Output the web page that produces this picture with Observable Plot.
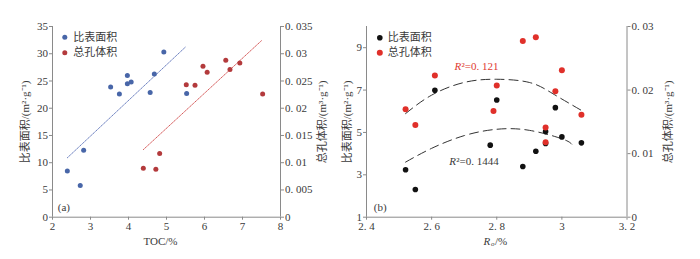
<!DOCTYPE html>
<html><head><meta charset="utf-8">
<script src="https://cdn.jsdelivr.net/npm/d3@7"></script>
<script src="https://cdn.jsdelivr.net/npm/@observablehq/plot@0.6"></script>
<style>
body{margin:0;background:#fff;}
#wrap{position:relative;width:700px;height:259px;overflow:hidden;}
#a{position:absolute;left:0;top:0;}
#b{position:absolute;left:330px;top:0;}
</style></head><body><div id="wrap"><div id="a"></div><div id="b"></div></div>
<script>
// ---------- Panel (a): TOC vs specific surface area / total pore volume ----------
const aTocSA = [2.39, 2.73, 2.82, 3.53, 3.76, 3.97, 3.97, 4.07, 4.57, 4.68, 4.93, 5.53];
const aSA    = [8.5, 5.8, 12.3, 23.9, 22.6, 26.0, 24.5, 24.8, 22.9, 26.3, 30.3, 22.7];
const aTocPV = [4.39, 4.72, 4.82, 5.52, 5.75, 5.96, 6.07, 6.56, 6.67, 6.93, 7.53];
const aPV    = [0.0090, 0.0088, 0.0117, 0.0243, 0.0242, 0.0277, 0.0266, 0.0288, 0.0271, 0.0283, 0.0226];
const aFitSAx = [2.39, 5.51], aFitSAy = [10.9, 31.3];
const aFitPVx = [4.39, 7.50], aFitPVy = [0.0124, 0.0324];
const aXTicks = [2, 3, 4, 5, 6, 7, 8];
const aLeftTicks = [0, 5, 10, 15, 20, 25, 30, 35];
const aRightTicks = [0, 0.005, 0.01, 0.015, 0.02, 0.025, 0.03, 0.035];

// ---------- Panel (b): Ro vs specific surface area / total pore volume ----------
const bRoSA = [2.52, 2.55, 2.61, 2.78, 2.80, 2.88, 2.92, 2.95, 2.95, 2.98, 3.00, 3.06];
const bSA   = [3.24, 2.31, 6.99, 4.40, 6.53, 3.39, 4.11, 5.04, 4.48, 6.17, 4.79, 4.51];
const bRoPV = [2.52, 2.55, 2.61, 2.79, 2.80, 2.88, 2.92, 2.95, 2.95, 2.98, 3.00, 3.06];
const bPV   = [0.0170, 0.0145, 0.0223, 0.0167, 0.0207, 0.0277, 0.0283, 0.0141, 0.0118, 0.0198, 0.0231, 0.0161];
const bFitSAx = [2.52, 2.6, 2.7, 2.8, 2.9, 3.0, 3.03];
const bFitSAy = [3.6, 4.25, 4.85, 5.15, 5.1, 4.7, 4.45];
const bFitPVx = [2.52, 2.6, 2.7, 2.8, 2.9, 2.97, 3.06];
const bFitPVy = [0.0163, 0.0192, 0.0212, 0.0217, 0.0212, 0.0195, 0.0168];
const bXTicks = [2.4, 2.6, 2.8, 3.0, 3.2];
const bLeftTicks = [1, 3, 5, 7, 9];
const bRightTicks = [0, 0.01, 0.02, 0.03];
const bR2 = [{x: 2.670, y: 8.11, t: "0. 121", c: "red"}, {x: 2.654, y: 3.61, t: "0. 1444", c: "black"}];

const legendLabels = ["比表面积", "总孔体积"];
const labelSA = "比表面积/(m²·g⁻¹)";
const labelPV = "总孔体积/(m³·g⁻¹)";

// ---------- styling ----------
const FONT = '"Liberation Serif","Noto Sans CJK SC",serif';
const AX = "#8a8a8a", TX = "#3a3a3a";
const BLUE = "#4866a8", RED_A = "#b33a3c", RED_B = "#e0302a", BLACK = "#111";
const fmt = v => String(+(+v).toFixed(4)).replace(".", ". ");
const zip = (xs, ys) => xs.map((x, i) => ({x, y: ys[i]}));
const T = {text: d => d, lineAnchor: "middle", fontSize: 11, fill: TX};

// panel a: right axis value v maps to left units v*1000
const aToL = v => v * 1000;
const A = Plot.plot({
  width: 330, height: 259,
  marginLeft: 52, marginRight: 50, marginTop: 26, marginBottom: 42.3,
  x: {domain: [2, 8]},
  y: {domain: [0, 35]},
  style: {fontFamily: FONT, fontSize: "11px", color: TX, background: "#fff"},
  marks: [
    Plot.ruleX([2, 8], {stroke: AX}),
    Plot.ruleY([0], {stroke: AX}),
    Plot.axisX({ticks: aXTicks, tickSize: 3, tickPadding: 2, label: null, tickFormat: fmt, stroke: AX, fill: TX}),
    Plot.axisY({anchor: "left", ticks: aLeftTicks, tickSize: 3, tickPadding: 1.5, label: null, tickFormat: fmt, stroke: AX, fill: TX}),
    Plot.axisY({anchor: "right", ticks: aRightTicks.map(aToL), tickSize: 3, tickPadding: 1.5, label: null, tickFormat: d => fmt(d / 1000), stroke: AX, fill: TX}),
    Plot.line(zip(aFitSAx, aFitSAy), {x: "x", y: "y", stroke: "#5a70b8", strokeWidth: 0.9, strokeDasharray: "1,1.2"}),
    Plot.line(zip(aFitPVx, aFitPVy.map(aToL)), {x: "x", y: "y", stroke: "#d04a4a", strokeWidth: 0.9, strokeDasharray: "1,1.2"}),
    Plot.dot(zip(aTocSA, aSA), {x: "x", y: "y", r: 2.5, fill: BLUE}),
    Plot.dot(zip(aTocPV, aPV.map(aToL)), {x: "x", y: "y", r: 2.5, fill: RED_A}),
    // legend
    Plot.dot([0], {frameAnchor: "top-left", dx: 12.3, dy: 10.7, r: 2.5, fill: BLUE}),
    Plot.dot([0], {frameAnchor: "top-left", dx: 12.3, dy: 26.3, r: 2.5, fill: RED_A}),
    Plot.text([legendLabels[0]], {...T, frameAnchor: "top-left", dx: 20.7, dy: 10.7, textAnchor: "start"}),
    Plot.text([legendLabels[1]], {...T, frameAnchor: "top-left", dx: 20.7, dy: 26.3, textAnchor: "start"}),
    Plot.text(["(a)"], {...T, frameAnchor: "bottom-left", dx: 5.3, dy: -9.4, textAnchor: "start"}),
    // axis titles
    Plot.text([labelSA], {...T, frameAnchor: "left", dx: -27, rotate: -90, textAnchor: "middle"}),
    Plot.text([labelPV], {...T, frameAnchor: "right", dx: 41.7, rotate: -90, textAnchor: "middle"}),
    Plot.text(["TOC/%"], {...T, frameAnchor: "bottom", dx: -6, dy: 24, textAnchor: "middle"})
  ]
});
document.getElementById("a").append(A);

// panel b: right axis value v maps to left units 1 + v*300
const bToL = v => 1 + v * 300;
const B = Plot.plot({
  width: 370, height: 259,
  marginLeft: 36, marginRight: 73.5, marginTop: 26, marginBottom: 42.3,
  x: {domain: [2.4, 3.2]},
  y: {domain: [1, 10]},
  style: {fontFamily: FONT, fontSize: "11px", color: TX, background: "#fff"},
  marks: [
    Plot.ruleX([2.4, 3.2], {stroke: AX}),
    Plot.ruleY([1], {stroke: AX}),
    Plot.axisX({ticks: bXTicks, tickSize: 3, tickPadding: 2, label: null, tickFormat: fmt, stroke: AX, fill: TX}),
    Plot.axisY({anchor: "left", ticks: bLeftTicks, tickSize: 3, tickPadding: 1.5, label: null, tickFormat: fmt, stroke: AX, fill: TX}),
    Plot.axisY({anchor: "right", ticks: bRightTicks.map(bToL), tickSize: 3, tickPadding: 1.5, label: null, tickFormat: d => fmt((d - 1) / 300), stroke: AX, fill: TX}),
    Plot.line(zip(bFitPVx, bFitPVy.map(bToL)), {x: "x", y: "y", curve: "natural", stroke: "#333", strokeWidth: 1, strokeDasharray: "9,5"}),
    Plot.line(zip(bFitSAx, bFitSAy), {x: "x", y: "y", curve: "natural", stroke: "#333", strokeWidth: 1, strokeDasharray: "9,5"}),
    Plot.dot(zip(bRoSA, bSA), {x: "x", y: "y", r: 2.8, fill: BLACK}),
    Plot.dot(zip(bRoPV, bPV.map(bToL)), {x: "x", y: "y", r: 3, fill: RED_B}),
    // R² annotations
    Plot.text(bR2, {x: "x", y: "y", text: () => "R", textAnchor: "start", lineAnchor: "middle", fontStyle: "italic", fontSize: 11, fill: d => d.c === "red" ? "#e03a30" : TX}),
    Plot.text(bR2, {x: "x", y: "y", dx: 7, text: d => "²=" + d.t, textAnchor: "start", lineAnchor: "middle", fontSize: 11, fill: d => d.c === "red" ? "#e03a30" : TX}),
    // legend
    Plot.dot([0], {frameAnchor: "top-left", dx: 13.3, dy: 11.3, r: 2.8, fill: BLACK}),
    Plot.dot([0], {frameAnchor: "top-left", dx: 13.3, dy: 26.3, r: 3, fill: RED_B}),
    Plot.text([legendLabels[0]], {...T, frameAnchor: "top-left", dx: 21.3, dy: 11.3, textAnchor: "start"}),
    Plot.text([legendLabels[1]], {...T, frameAnchor: "top-left", dx: 21.3, dy: 26.3, textAnchor: "start"}),
    Plot.text(["(b)"], {...T, frameAnchor: "bottom-left", dx: 7.3, dy: -9.4, textAnchor: "start"}),
    // axis titles
    Plot.text([labelSA], {...T, frameAnchor: "left", dx: -19, rotate: -90, textAnchor: "middle"}),
    Plot.text([labelPV], {...T, frameAnchor: "right", dx: 41.5, rotate: -90, textAnchor: "middle"}),
    Plot.text(["R"], {...T, frameAnchor: "bottom", dx: -13.25, dy: 24, textAnchor: "start", fontStyle: "italic"}),
    Plot.text(["o"], {...T, frameAnchor: "bottom", dx: -5.75, dy: 27, textAnchor: "start", fontStyle: "italic", fontSize: 7}),
    Plot.text(["/%"], {...T, frameAnchor: "bottom", dx: -1.75, dy: 24, textAnchor: "start"})
  ]
});
document.getElementById("b").append(B);
</script>
</body></html>
